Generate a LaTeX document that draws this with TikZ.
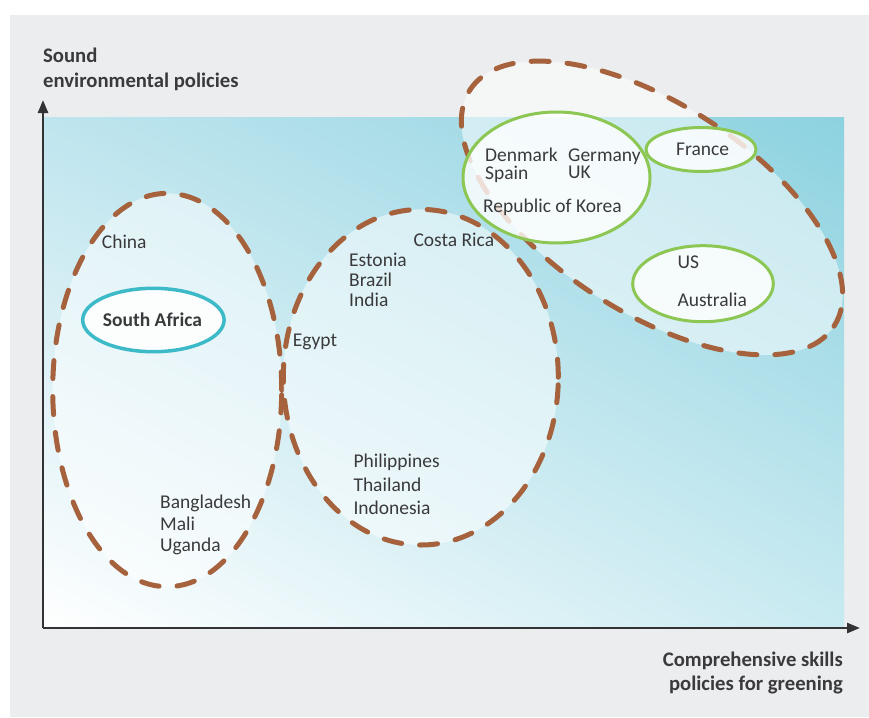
\documentclass[tikz,border=0pt]{standalone}
\usepackage{fontspec}
\setmainfont{Carlito}
\usetikzlibrary{arrows.meta,shadings}
\definecolor{bggray}{HTML}{ECEDEE}
\definecolor{txt}{HTML}{3A3A3C}
\definecolor{brn}{HTML}{A5623C}
\definecolor{grn}{HTML}{8CC653}
\definecolor{cyn}{HTML}{3DBAC8}
\definecolor{axc}{HTML}{333335}
\definecolor{pUL}{HTML}{BFE5EE}
\definecolor{pUR}{HTML}{8DD2E0}
\definecolor{pLR}{HTML}{C9EAF1}
\begin{document}
\begin{tikzpicture}[x=1pt,y=-1pt,
  lbl/.style={anchor=base west, inner sep=0pt, text=txt, font=\fontsize{19.5}{23}\selectfont},
  tight/.style={anchor=base west, inner sep=0pt, text=txt, font=\fontsize{19.5}{17}\selectfont},
  ttl/.style={anchor=base west, inner sep=0pt, text=txt, font=\fontsize{20.7}{24}\selectfont\bfseries},
  ttlr/.style={anchor=base east, inner sep=0pt, text=txt, font=\fontsize{20.7}{24}\selectfont\bfseries},
  grp/.style={draw=brn, line width=5pt, dash pattern=on 18pt off 18pt, line cap=round, fill=white, fill opacity=0.5},
  subgrp/.style={draw=grn, line width=3pt, fill=white, fill opacity=0.8},
  focus/.style={draw=cyn, line width=3.5pt, fill=white, fill opacity=0.9},
  axis/.style={draw=axc, line width=2.6pt, -{Triangle[length=13pt,width=10pt]}}
]
\useasboundingbox (0,0) rectangle (869,717);
\fill[white] (0,0) rectangle (869,717);
\fill[bggray] (10,15) rectangle (869,717);
\shade[upper left=pUL, upper right=pUR, lower right=pLR, lower left=white] (43,117) rectangle (844,628);

% group ellipses
\path[grp] (167.2,390) ellipse [x radius=114.5pt, y radius=196.7pt];
\path[grp] (420.8,377.2) ellipse [x radius=137.5pt, y radius=167.8pt];
\path[grp, rotate around={-33:(652,208)}] (652,208) ellipse [x radius=217pt, y radius=104pt];

% sub-group ellipses
\path[subgrp] (556.5,177.5) ellipse [x radius=93.5pt, y radius=65.5pt];
\path[subgrp] (701,149.5) ellipse [x radius=55pt, y radius=22pt];
\path[subgrp] (703,283.7) ellipse [x radius=70.3pt, y radius=38pt];
\path[focus] (153.4,320) ellipse [x radius=70.7pt, y radius=31.7pt];

% axes
\coordinate (O) at (43,628);
\coordinate (ytip) at (43,100);
\coordinate (xtip) at (860,628);
\draw[axis] (O) -- (ytip);
\draw[axis] (O) -- (xtip);

% axis labels
\node[ttl] (yl1) at (43,63) {Sound};
\node[ttl] (yl2) at (43,87) {environmental policies};
\node[ttlr] (xl1) at (843,666) {Comprehensive skills};
\node[ttlr] (xl2) at (843,690) {policies for greening};

% countries
\node[lbl] (china) at (101.7,248.3) {China};
\node[lbl, font=\fontsize{19.5}{23}\selectfont\bfseries] (sa) at (102.7,326.7) {South Africa};
\node[lbl] (bgd) at (160,508.3) {Bangladesh};
\node[lbl] (mali) at (160,530) {Mali};
\node[lbl] (uga) at (160,551.7) {Uganda};
\node[lbl] (egy) at (292.7,346.7) {Egypt};
\node[lbl] (est) at (349,266.7) {Estonia};
\node[lbl] (bra) at (349,286.7) {Brazil};
\node[lbl] (ind) at (349,306.7) {India};
\node[lbl] (cri) at (413.3,246.7) {Costa Rica};
\node[lbl] (phl) at (353.3,467.7) {Philippines};
\node[lbl] (tha) at (353.3,491) {Thailand};
\node[lbl] (idn) at (353.3,514.3) {Indonesia};
\node[tight] (dnkesp) at (485,161) {\begin{tabular}[t]{@{}l@{}}Denmark\\Spain\end{tabular}};
\node[tight] (deugbr) at (568,161) {\begin{tabular}[t]{@{}l@{}}Germany\\UK\end{tabular}};
\node[lbl] (kor) at (483,212.7) {Republic of Korea};
\node[lbl] (fra) at (676,155) {France};
\node[lbl] (usa) at (677.3,268.3) {US};
\node[lbl] (aus) at (677.3,306) {Australia};
\end{tikzpicture}
\end{document}
